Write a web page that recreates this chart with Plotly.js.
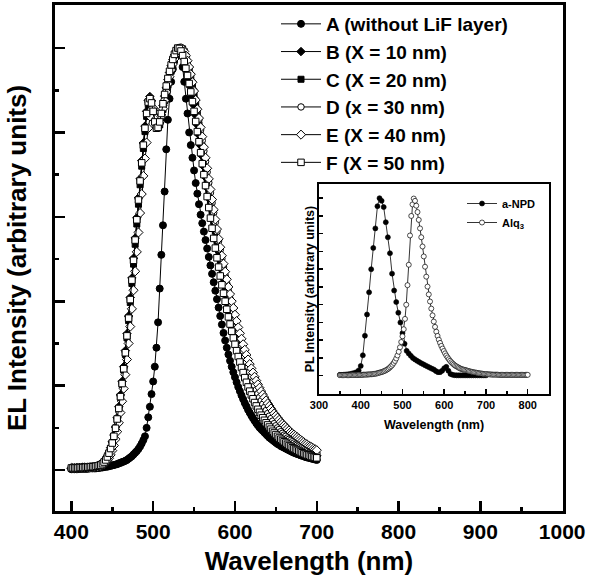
<!DOCTYPE html>
<html><head><meta charset="utf-8">
<script src="https://cdn.plot.ly/plotly-3.0.1.min.js"></script>
<style>html,body{margin:0;padding:0;background:#fff}#chart{width:590px;height:584px}</style>
</head><body><div id="chart"></div>
<script>
// ---- Main chart (EL spectra) ----
const wavelength = [
400,402,404,406,408,410,412,414,416,418,
420,422,424,426,428,430,432,434,436,438,
440,442,444,446,448,450,452,454,456,458,
460,462,464,466,468,470,472,474,476,478,
480,482,484,486,488,490,492,494,496,498,
500,502,504,506,508,510,512,514,516,518,
520,522,524,526,528,530,532,534,536,538,
540,542,544,546,548,550,552,554,556,558,
560,562,564,566,568,570,572,574,576,578,
580,582,584,586,588,590,592,594,596,598,
600,602,604,606,608,610,612,614,616,618,
620,622,624,626,628,630,632,634,636,638,
640,642,644,646,648,650,652,654,656,658,
660,662,664,666,668,670,672,674,676,678,
680,682,684,686,688,690,692,694,696,698,
700];

const seriesA = [
0.002,0.002,0.002,0.002,0.002,0.003,0.003,0.003,0.003,0.003,
0.003,0.004,0.004,0.004,0.004,0.004,0.005,0.005,0.006,0.006,
0.007,0.008,0.008,0.009,0.010,0.011,0.012,0.013,0.014,0.016,
0.017,0.019,0.020,0.022,0.024,0.027,0.030,0.033,0.037,0.041,
0.045,0.050,0.056,0.063,0.071,0.080,0.100,0.125,0.150,0.180,
0.210,0.245,0.290,0.350,0.430,0.510,0.580,0.660,0.760,0.830,
0.880,0.920,0.950,0.975,0.990,0.998,1.000,0.985,0.955,0.920,
0.880,0.845,0.800,0.770,0.740,0.710,0.680,0.655,0.630,0.605,
0.585,0.565,0.545,0.525,0.505,0.485,0.465,0.445,0.425,0.405,
0.385,0.365,0.345,0.325,0.307,0.290,0.274,0.259,0.245,0.232,
0.220,0.208,0.197,0.187,0.177,0.168,0.159,0.151,0.143,0.136,
0.129,0.123,0.117,0.111,0.106,0.101,0.097,0.093,0.089,0.085,
0.081,0.077,0.074,0.071,0.068,0.065,0.062,0.060,0.057,0.055,
0.053,0.051,0.049,0.047,0.045,0.043,0.041,0.040,0.038,0.037,
0.035,0.034,0.033,0.031,0.030,0.029,0.028,0.027,0.026,0.025,
0.024];

const seriesB = [
0.004,0.004,0.004,0.005,0.005,0.005,0.005,0.006,0.006,0.006,
0.006,0.007,0.007,0.007,0.008,0.009,0.010,0.011,0.013,0.016,
0.020,0.026,0.033,0.042,0.053,0.067,0.083,0.102,0.124,0.150,
0.178,0.210,0.245,0.283,0.323,0.365,0.409,0.455,0.502,0.550,
0.598,0.645,0.690,0.733,0.775,0.815,0.850,0.876,0.885,0.875,
0.853,0.828,0.812,0.812,0.823,0.842,0.864,0.886,0.906,0.925,
0.942,0.958,0.972,0.984,0.993,0.999,1.000,0.996,0.987,0.975,
0.960,0.944,0.926,0.907,0.886,0.864,0.841,0.818,0.794,0.769,
0.744,0.719,0.694,0.669,0.644,0.620,0.596,0.573,0.550,0.528,
0.506,0.485,0.464,0.444,0.425,0.406,0.388,0.370,0.353,0.337,
0.321,0.306,0.291,0.277,0.264,0.251,0.239,0.227,0.216,0.205,
0.195,0.185,0.176,0.167,0.159,0.151,0.144,0.137,0.130,0.124,
0.118,0.112,0.107,0.102,0.097,0.093,0.088,0.084,0.081,0.077,
0.074,0.071,0.068,0.065,0.062,0.060,0.057,0.055,0.053,0.051,
0.049,0.047,0.045,0.043,0.042,0.040,0.039,0.037,0.036,0.035,
0.034];

const seriesC = [
0.004,0.004,0.004,0.004,0.005,0.005,0.005,0.005,0.006,0.006,
0.006,0.007,0.007,0.008,0.008,0.009,0.010,0.011,0.013,0.015,
0.019,0.024,0.031,0.040,0.051,0.064,0.080,0.098,0.119,0.144,
0.172,0.203,0.237,0.274,0.313,0.354,0.397,0.442,0.488,0.535,
0.583,0.630,0.676,0.720,0.762,0.802,0.838,0.866,0.878,0.872,
0.853,0.830,0.814,0.811,0.818,0.834,0.854,0.875,0.895,0.913,
0.930,0.945,0.959,0.971,0.982,0.991,0.997,1.000,0.998,0.991,
0.980,0.966,0.950,0.932,0.912,0.890,0.867,0.843,0.818,0.792,
0.766,0.740,0.714,0.688,0.663,0.638,0.613,0.589,0.566,0.543,
0.521,0.499,0.478,0.457,0.437,0.418,0.399,0.381,0.364,0.347,
0.331,0.315,0.300,0.286,0.272,0.259,0.246,0.234,0.222,0.211,
0.200,0.190,0.181,0.172,0.163,0.155,0.147,0.140,0.133,0.127,
0.121,0.115,0.110,0.105,0.100,0.095,0.091,0.087,0.083,0.079,
0.076,0.073,0.070,0.067,0.064,0.061,0.059,0.057,0.054,0.052,
0.050,0.048,0.047,0.045,0.043,0.042,0.040,0.039,0.038,0.037,
0.036];

const seriesD = [
0.005,0.005,0.005,0.005,0.005,0.005,0.006,0.006,0.006,0.006,
0.007,0.007,0.007,0.008,0.008,0.009,0.010,0.011,0.013,0.016,
0.020,0.025,0.032,0.041,0.052,0.065,0.081,0.100,0.122,0.147,
0.175,0.206,0.241,0.279,0.319,0.361,0.405,0.451,0.498,0.546,
0.594,0.641,0.686,0.729,0.771,0.810,0.846,0.872,0.882,0.874,
0.855,0.832,0.816,0.813,0.821,0.838,0.859,0.880,0.900,0.918,
0.935,0.950,0.963,0.975,0.985,0.993,0.998,1.000,0.997,0.990,
0.980,0.968,0.953,0.937,0.919,0.899,0.877,0.854,0.830,0.806,
0.781,0.756,0.731,0.706,0.681,0.657,0.633,0.610,0.587,0.565,
0.543,0.522,0.501,0.481,0.461,0.442,0.424,0.406,0.389,0.372,
0.356,0.340,0.325,0.310,0.296,0.282,0.269,0.256,0.244,0.232,
0.221,0.210,0.200,0.190,0.181,0.172,0.164,0.156,0.148,0.141,
0.134,0.128,0.122,0.116,0.110,0.105,0.100,0.096,0.091,0.087,
0.083,0.080,0.076,0.073,0.070,0.067,0.064,0.061,0.059,0.057,
0.055,0.053,0.051,0.049,0.047,0.046,0.044,0.043,0.042,0.041,
0.040];

const seriesE = [
0.005,0.005,0.005,0.005,0.005,0.005,0.005,0.006,0.006,0.006,
0.006,0.006,0.007,0.007,0.007,0.008,0.008,0.009,0.010,0.012,
0.014,0.017,0.022,0.028,0.036,0.046,0.058,0.073,0.091,0.112,
0.136,0.163,0.193,0.226,0.262,0.300,0.340,0.382,0.426,0.471,
0.517,0.563,0.609,0.654,0.697,0.738,0.776,0.810,0.838,0.855,
0.858,0.848,0.833,0.824,0.826,0.838,0.856,0.876,0.896,0.915,
0.932,0.948,0.962,0.974,0.985,0.993,0.998,1.000,0.998,0.992,
0.982,0.970,0.955,0.938,0.919,0.898,0.877,0.855,0.834,0.812,
0.790,0.765,0.740,0.715,0.690,0.665,0.641,0.617,0.594,0.571,
0.548,0.528,0.508,0.489,0.470,0.452,0.434,0.417,0.400,0.384,
0.368,0.353,0.338,0.324,0.311,0.298,0.285,0.273,0.262,0.251,
0.241,0.231,0.221,0.212,0.203,0.195,0.187,0.179,0.172,0.165,
0.158,0.152,0.146,0.140,0.134,0.129,0.124,0.119,0.114,0.110,
0.106,0.102,0.098,0.094,0.090,0.087,0.084,0.081,0.078,0.075,
0.072,0.069,0.066,0.063,0.061,0.058,0.056,0.054,0.051,0.049,
0.047];

const seriesF = [
0.005,0.005,0.005,0.005,0.005,0.006,0.006,0.006,0.006,0.007,
0.007,0.007,0.008,0.008,0.008,0.009,0.010,0.011,0.012,0.015,
0.019,0.024,0.031,0.040,0.051,0.064,0.080,0.099,0.121,0.146,
0.174,0.205,0.240,0.278,0.318,0.360,0.404,0.450,0.497,0.545,
0.593,0.640,0.685,0.728,0.770,0.810,0.845,0.872,0.880,0.870,
0.850,0.825,0.810,0.812,0.825,0.845,0.868,0.890,0.910,0.928,
0.945,0.960,0.973,0.985,0.994,1.000,0.999,0.993,0.982,0.968,
0.952,0.935,0.916,0.896,0.873,0.850,0.826,0.802,0.778,0.752,
0.726,0.700,0.674,0.648,0.622,0.597,0.573,0.549,0.526,0.503,
0.481,0.460,0.439,0.419,0.400,0.381,0.363,0.346,0.329,0.313,
0.298,0.283,0.269,0.256,0.243,0.231,0.219,0.208,0.197,0.187,
0.178,0.169,0.160,0.152,0.144,0.137,0.130,0.124,0.118,0.112,
0.107,0.102,0.097,0.092,0.088,0.084,0.080,0.076,0.073,0.070,
0.067,0.064,0.061,0.058,0.056,0.053,0.051,0.049,0.047,0.045,
0.043,0.041,0.039,0.038,0.036,0.035,0.033,0.032,0.031,0.030,
0.029];

const seriesNames = ['A (without LiF layer)','B (X = 10 nm)','C (X = 20 nm)','D (x = 30 nm)','E (X = 40 nm)','F (X = 50 nm)'];

// ---- Inset (PL spectra) ----
const npdWavelength = [
350,355,360,365,370,375,380,385,390,395,
400,405,410,415,420,425,430,435,440,445,
450,455,460,465,470,475,480,485,490,495,
500,505,510,515,520,525,530,535,540,545,
550,555,560,565,570,575,580,585,590,595,
600,605,610,615,620,625,630,635,640,645,
650,655,660,665,670,675,680,685,690,695,
700];
const npdPL = [
0.005,0.005,0.006,0.007,0.008,0.010,0.013,0.016,0.020,0.030,
0.055,0.115,0.225,0.345,0.470,0.600,0.720,0.830,0.955,1.000,
0.985,0.950,0.865,0.780,0.690,0.575,0.480,0.415,0.355,0.300,
0.240,0.180,0.140,0.125,0.112,0.100,0.092,0.084,0.077,0.070,
0.064,0.058,0.052,0.046,0.040,0.035,0.026,0.020,0.020,0.028,
0.042,0.050,0.028,0.010,0.005,0.003,0.002,0.002,0.002,0.002,
0.002,0.002,0.002,0.002,0.002,0.002,0.002,0.002,0.002,0.002,
0.002];

const alqWavelength = [
350,353,356,359,362,365,368,371,374,377,
380,383,386,389,392,395,398,401,404,407,
410,413,416,419,422,425,428,431,434,437,
440,443,446,449,452,455,458,461,464,467,
470,473,476,479,482,485,488,491,494,497,
500,503,506,509,512,515,518,521,524,527,
530,533,536,539,542,545,548,551,554,557,
560,563,566,569,572,575,578,581,584,587,
590,593,596,599,602,605,608,611,614,617,
620,623,626,629,632,635,638,641,644,647,
650,653,656,659,662,665,668,671,674,677,
680,683,686,689,692,695,698,701,704,707,
710,713,716,719,722,725,728,731,734,737,
740,743,746,749,752,755,758,761,764,767,
770,773,776,779,782,785,788,791,794,797,
800];
const alqPL = [
0.003,0.003,0.003,0.003,0.003,0.003,0.003,0.003,0.003,0.004,
0.004,0.004,0.004,0.004,0.004,0.005,0.005,0.005,0.005,0.006,
0.006,0.006,0.007,0.007,0.008,0.008,0.009,0.010,0.011,0.012,
0.014,0.016,0.018,0.020,0.022,0.025,0.028,0.032,0.036,0.041,
0.047,0.054,0.062,0.072,0.083,0.097,0.114,0.135,0.160,0.190,
0.222,0.262,0.320,0.400,0.510,0.625,0.790,0.900,0.965,0.998,
0.985,0.958,0.922,0.878,0.830,0.780,0.728,0.672,0.614,0.558,
0.502,0.458,0.418,0.378,0.340,0.305,0.275,0.248,0.224,0.203,
0.185,0.168,0.153,0.139,0.126,0.114,0.103,0.093,0.084,0.076,
0.069,0.063,0.057,0.053,0.049,0.045,0.041,0.038,0.036,0.034,
0.032,0.030,0.028,0.026,0.024,0.022,0.021,0.019,0.018,0.017,
0.015,0.014,0.013,0.012,0.011,0.010,0.009,0.009,0.008,0.008,
0.007,0.007,0.006,0.006,0.006,0.006,0.006,0.005,0.005,0.005,
0.005,0.005,0.005,0.005,0.005,0.005,0.005,0.005,0.005,0.005,
0.005,0.005,0.005,0.005,0.005,0.005,0.005,0.005,0.005,0.005,
0.005];
const insetNames = ['a-NPD','Alq<sub>3</sub>'];

// ---- styling ----
const FONT = 'Liberation Sans, Arial, Helvetica, sans-serif';
const mainSeries = [seriesA, seriesB, seriesC, seriesD, seriesE, seriesF];
const markerStyles = [
  {symbol:'circle',  size:7,   color:'#000'},
  {symbol:'diamond', size:6.5, color:'#000'},
  {symbol:'square',  size:6,   color:'#000'},
  {symbol:'circle',  size:6.5, color:'#fff'},
  {symbol:'diamond', size:7,   color:'#fff'},
  {symbol:'square',  size:6.5, color:'#fff'}
];

const traces = mainSeries.map((ys, i) => ({
  type:'scatter', mode:'lines+markers',
  x: wavelength, y: ys, name: seriesNames[i],
  xaxis:'x', yaxis:'y', legend:'legend',
  line:{color:'#000', width:1},
  marker:{symbol:markerStyles[i].symbol, size:markerStyles[i].size, color:markerStyles[i].color,
          line:{color:'#000', width:1}},
  hoverinfo:'skip'
}));

traces.push({
  type:'scatter', mode:'lines+markers', x:npdWavelength, y:npdPL, name:insetNames[0],
  xaxis:'x2', yaxis:'y2', legend:'legend2',
  line:{color:'#000', width:0.8},
  marker:{symbol:'circle', size:5, color:'#000', line:{color:'#000', width:0.6}},
  hoverinfo:'skip'
});
traces.push({
  type:'scatter', mode:'lines+markers', x:alqWavelength, y:alqPL, name:insetNames[1],
  xaxis:'x2', yaxis:'y2', legend:'legend2',
  line:{color:'#000', width:0.8},
  marker:{symbol:'circle', size:5, color:'#fff', line:{color:'#000', width:0.7}},
  hoverinfo:'skip'
});

const L = 55, R = 563, T = 5, B = 511, W = 590, H = 584;
const pw = R - L, ph = B - T;
const inset = {l:319, r:549, t:184, b:394};

const layout = {
  width:W, height:H,
  margin:{l:L, r:W-R, t:T, b:H-B, pad:0},
  paper_bgcolor:'#fff', plot_bgcolor:'#fff',
  showlegend:true,
  font:{family:FONT, color:'#000'},
  xaxis:{
    domain:[0,1], range:[380,1001], anchor:'y',
    tickmode:'linear', tick0:0, dtick:100,
    ticks:'inside', ticklen:10, tickwidth:2.5, tickcolor:'#000',
    minor:{dtick:50, ticks:'inside', ticklen:4, tickwidth:2.5, tickcolor:'#000'},
    showline:true, linecolor:'#000', linewidth:3, mirror:true,
    showgrid:false, zeroline:false,
    tickfont:{family:FONT, size:21, weight:700, color:'#000'},
    title:{text:'Wavelength (nm)', font:{family:FONT, size:26, weight:700, color:'#000'}, standoff:10}
  },
  yaxis:{
    domain:[0,1], range:[-0.097,1.102], anchor:'x',
    tickmode:'linear', tick0:0, dtick:0.2,
    ticks:'inside', ticklen:10, tickwidth:2.5, tickcolor:'#000',
    minor:{dtick:0.1, ticks:'inside', ticklen:4, tickwidth:2.5, tickcolor:'#000'},
    showticklabels:false,
    showline:true, linecolor:'#000', linewidth:3, mirror:true,
    showgrid:false, zeroline:false,
    title:{text:'EL Intensity (arbitrary units)', font:{family:FONT, size:26, weight:700, color:'#000'}, standoff:18}
  },
  xaxis2:{
    domain:[(inset.l-L)/pw, (inset.r-L)/pw], range:[300,851], anchor:'y2',
    tickmode:'linear', tick0:0, dtick:100,
    ticks:'inside', ticklen:5, tickwidth:1.5, tickcolor:'#000',
    minor:{dtick:50, ticks:'inside', ticklen:3, tickwidth:1.5, tickcolor:'#000'},
    showline:true, linecolor:'#000', linewidth:2, mirror:true,
    showgrid:false, zeroline:false,
    tickfont:{family:FONT, size:11, weight:700, color:'#000'},
    title:{text:'Wavelength (nm)', font:{family:FONT, size:12.5, weight:700, color:'#000'}, standoff:10}
  },
  yaxis2:{
    domain:[(B-inset.b)/ph, (B-inset.t)/ph], range:[-0.103,1.08], anchor:'x2',
    tickmode:'linear', tick0:0, dtick:0.1,
    ticks:'inside', ticklen:4, tickwidth:1.5, tickcolor:'#000',
    showticklabels:false,
    showline:true, linecolor:'#000', linewidth:2, mirror:true,
    showgrid:false, zeroline:false,
    title:{text:'PL Intensity (arbitrary units)', font:{family:FONT, size:12.5, weight:700, color:'#000'}, standoff:0}
  },
  legend:{
    x:(276-L)/pw, y:1.0, xanchor:'left', yanchor:'top',
    bgcolor:'rgba(0,0,0,0)', borderwidth:0, itemwidth:40, tracegroupgap:0,
    font:{family:FONT, size:19, weight:700, color:'#000'}
  },
  legend2:{
    x:(462-L)/pw, y:(B-189)/ph, xanchor:'left', yanchor:'top',
    bgcolor:'rgba(0,0,0,0)', borderwidth:0, itemwidth:30,
    font:{family:FONT, size:11, weight:700, color:'#000'}
  }
};

Plotly.newPlot('chart', traces, layout, {displayModeBar:false, staticPlot:true});
</script>
</body></html>
